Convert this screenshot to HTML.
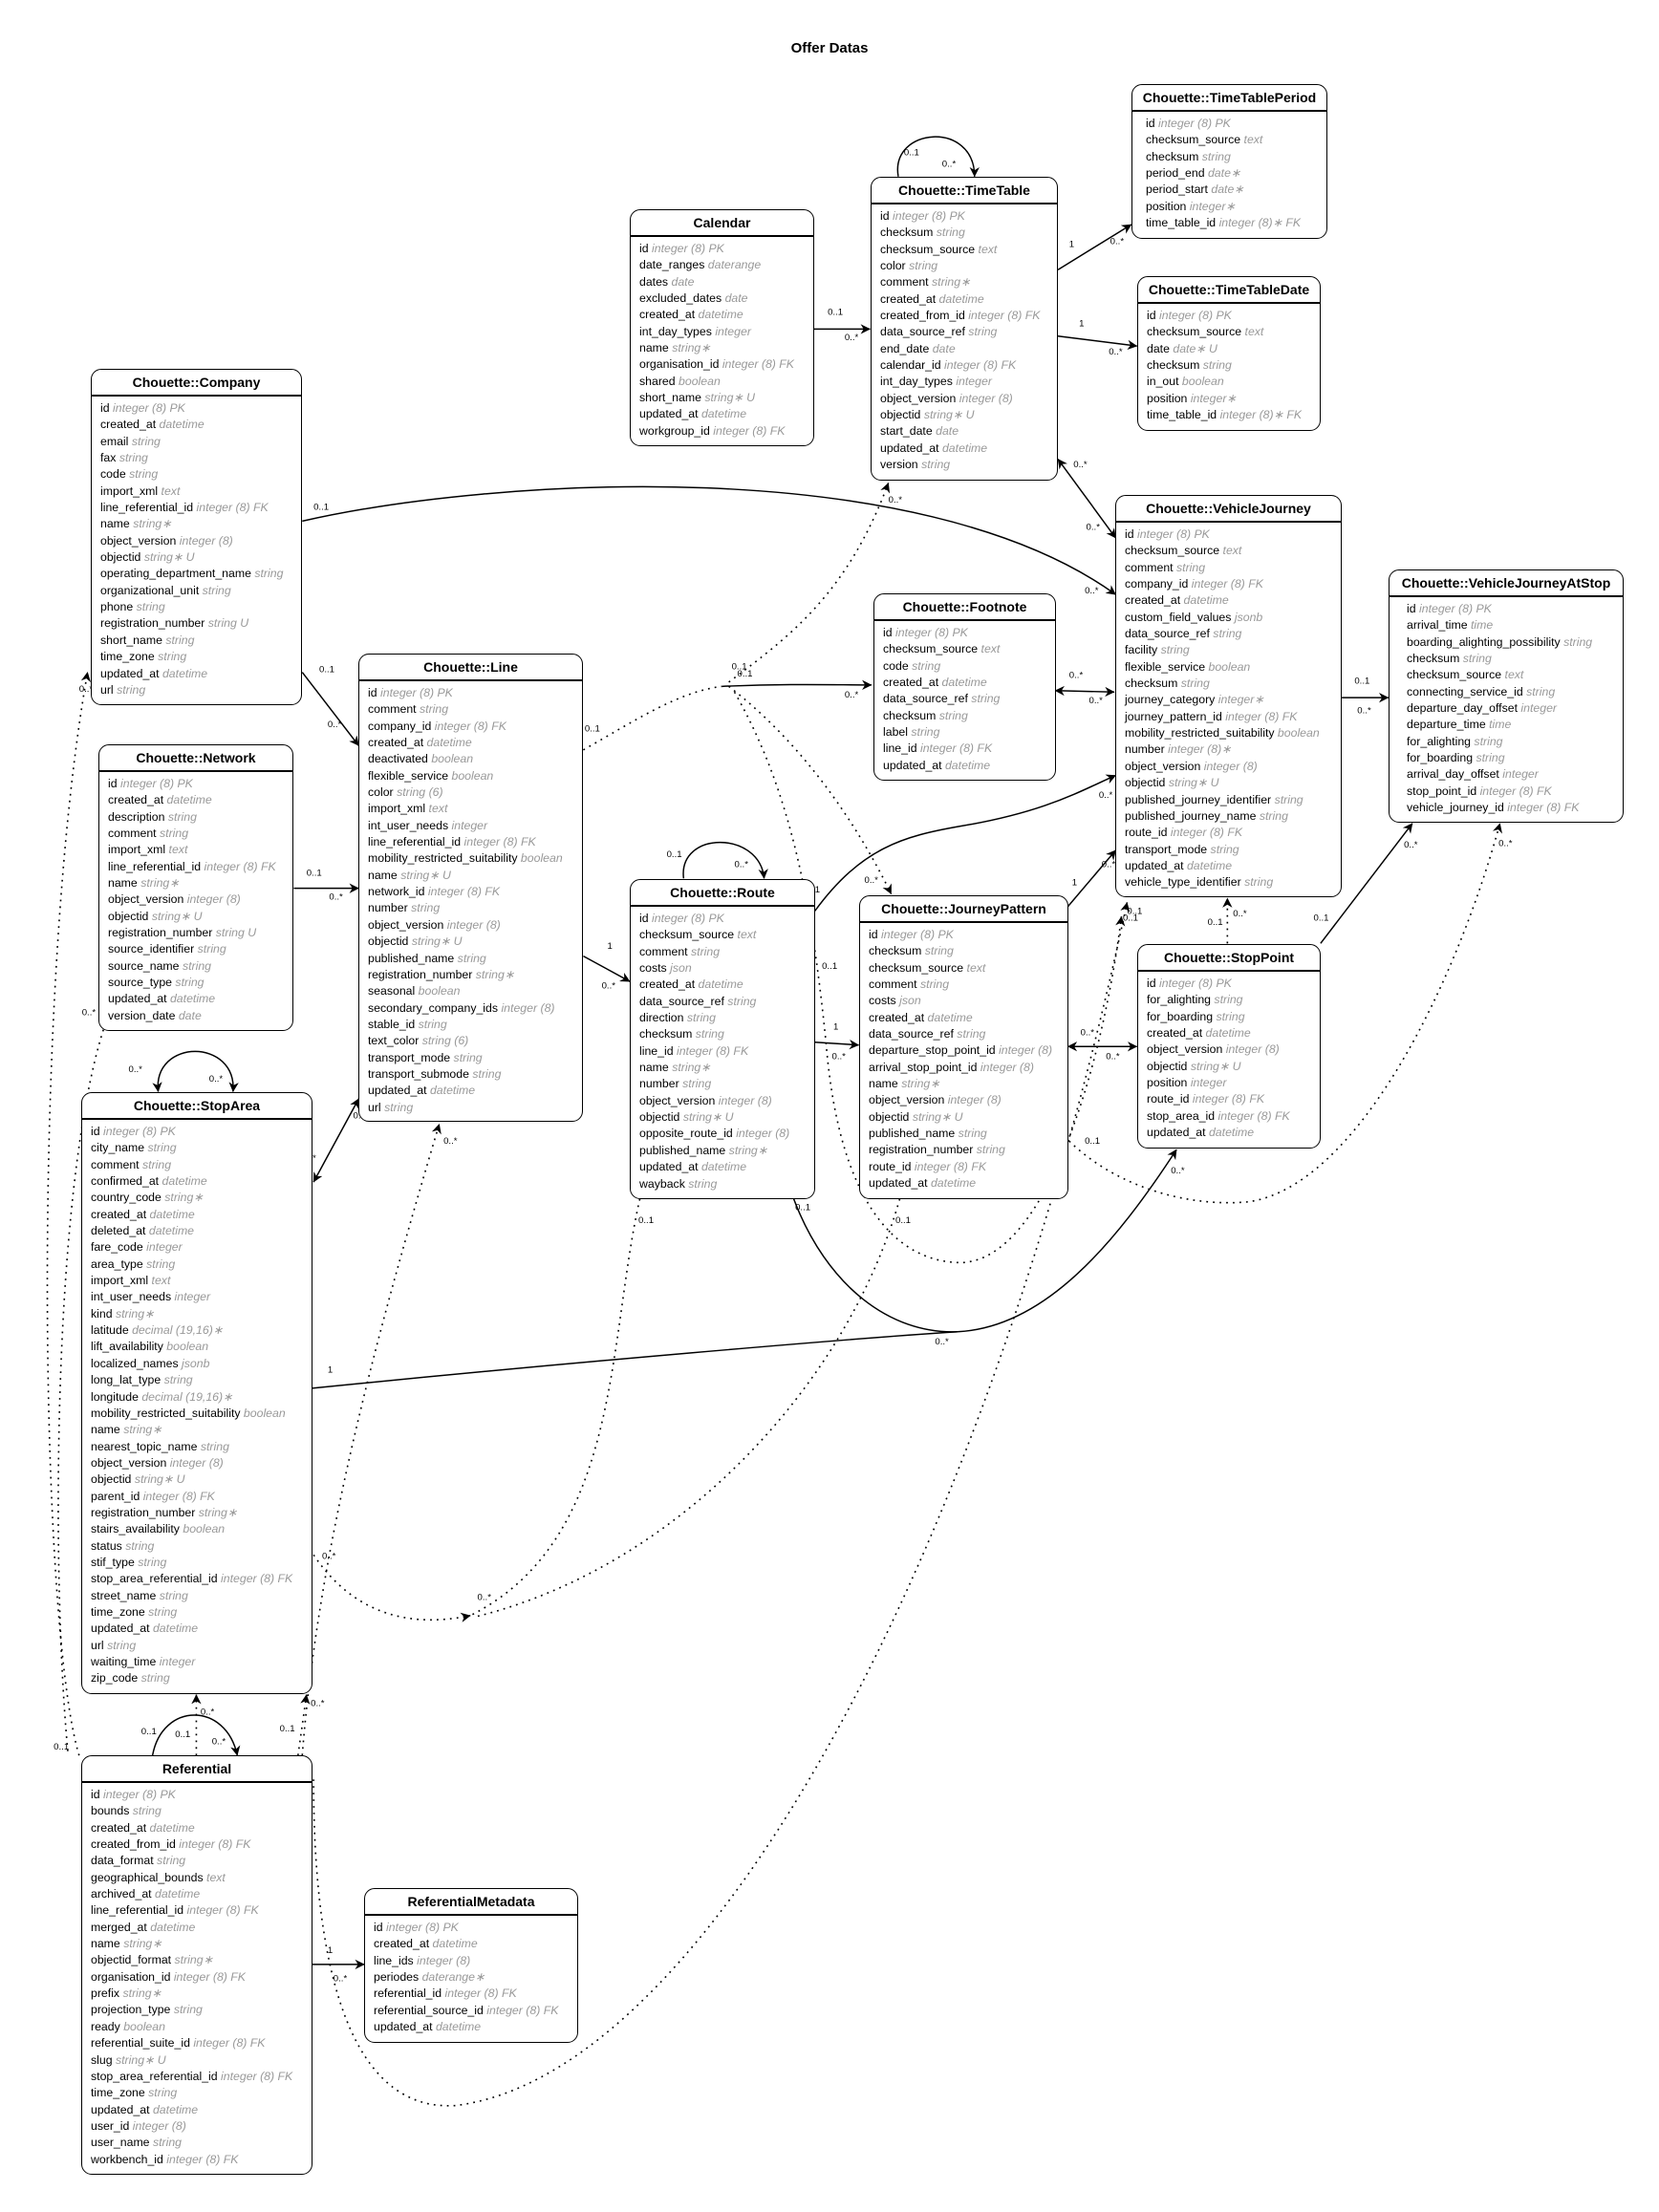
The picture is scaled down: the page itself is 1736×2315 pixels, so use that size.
<!DOCTYPE html>
<html><head><meta charset="utf-8">
<style>
html,body{margin:0;padding:0;background:#fff;}
body{width:1736px;height:2315px;position:relative;overflow:hidden;font-family:"Liberation Sans",Arial,sans-serif;}
svg.e{position:absolute;left:0;top:0;}
.box{position:absolute;border:1.5px solid #000;border-radius:11px;background:#fff;box-sizing:border-box;}
.h{height:26px;border-bottom:2px solid #000;text-align:center;font-weight:bold;font-size:14px;line-height:27px;white-space:nowrap;}
.b{text-align:left;padding-top:4px;padding-left:9px;}
.in{display:inline-block;text-align:left;}
.r{font-size:12.3px;line-height:17.35px;white-space:nowrap;color:#000;}
.r i{color:#999;}
.title{position:absolute;left:0;width:1736px;top:42px;text-align:center;font-weight:bold;font-size:15px;}
</style></head><body>
<div class="title">Offer Datas</div>
<svg class="e" width="1736" height="2315" viewBox="0 0 1174.6 1566.3">
<defs>
<marker id="a" viewBox="0 0 10 10" refX="9.5" refY="5" markerWidth="7" markerHeight="7" orient="auto-start-reverse" markerUnits="userSpaceOnUse">
<path d="M0,0 L10,5 L0,10 L3,5 z" fill="#000"/></marker>
</defs>
<g fill="none" stroke="#000" stroke-width="1">
<path d="M636,125 C630,90 690,85 690,125" marker-end="url(#a)"/>
<path d="M484,622 C480,588 538,588 541,622" marker-end="url(#a)"/>
<path d="M112,773 C108,735 168,735 165,773" marker-start="url(#a)" marker-end="url(#a)"/>
<path d="M108,1243 C115,1205 160,1205 168,1243" marker-end="url(#a)"/>
<path d="M749,191 L801,159" marker-end="url(#a)"/>
<path d="M749,238 L805,245" marker-end="url(#a)"/>
<path d="M576,233 L616,233" marker-end="url(#a)"/>
<path d="M749,325 L790,381" marker-start="url(#a)" marker-end="url(#a)"/>
<path d="M214,369 C350,338 650,320 790,421" marker-end="url(#a)"/>
<path d="M214,476 L254,528" marker-end="url(#a)"/>
<path d="M208,629 L254,629" marker-end="url(#a)"/>
<path d="M254,778 L222,837" marker-start="url(#a)" marker-end="url(#a)"/>
<path d="M413,677 L446,695" marker-end="url(#a)"/>
<path d="M511,486 C560,484 590,485 617,485" marker-end="url(#a)"/>
<path d="M577,645 C610,600 640,592 680,585 C740,575 765,560 790,549" marker-end="url(#a)"/>
<path d="M577,738 L608,740" marker-end="url(#a)"/>
<path d="M756,642 L790,602" marker-end="url(#a)"/>
<path d="M756,741 L805,741" marker-start="url(#a)" marker-end="url(#a)"/>
<path d="M935,668 L1000,583" marker-end="url(#a)"/>
<path d="M950,494 L983,494" marker-end="url(#a)"/>
<path d="M747,489 L789,490" marker-start="url(#a)" marker-end="url(#a)"/>
<path d="M562,849 C585,910 630,945 678,943"/>
<path d="M221,983 C400,965 600,948 678,943"/>
<path d="M678,943 C740,940 790,880 833,814" marker-end="url(#a)"/>
<path d="M221,1391 L258,1391" marker-end="url(#a)"/>
</g>
<g fill="none" stroke="#000" stroke-width="1.1" stroke-dasharray="1.2 3.5">
<path d="M413,531 C450,510 480,490 511,486"/>
<path d="M516,483 C560,450 600,420 629,342" marker-end="url(#a)"/>
<path d="M516,486 C560,520 600,570 631,633" marker-end="url(#a)"/>
<path d="M520,490 C560,560 575,640 585,740 C595,860 640,895 682,894 C740,890 780,760 794,649" marker-end="url(#a)"/>
<path d="M869,668 L869,636" marker-end="url(#a)"/>
<path d="M757,808 C790,840 840,855 884,851 C960,840 1030,700 1062,583" marker-end="url(#a)"/>
<path d="M222,1101 C245,1135 280,1155 333,1144" marker-end="url(#a)"/>
<path d="M453,849 C430,950 440,1090 333,1144"/>
<path d="M637,849 C600,980 480,1110 336,1145"/>
<path d="M214,1243 C225,1100 265,950 311,796" marker-end="url(#a)"/>
<path d="M222,1260 C222,1400 250,1495 322,1491 C500,1470 700,1100 798,639" marker-end="url(#a)"/>
<path d="M56,1243 C28,1150 22,700 62,476" marker-end="url(#a)"/>
<path d="M48,1240 C35,1100 38,800 82,706" marker-end="url(#a)"/>
<path d="M139,1243 L139,1200" marker-end="url(#a)"/>
<path d="M211,1243 L217,1200" marker-end="url(#a)"/>
</g>
<g font-family="Liberation Sans, Arial, sans-serif" font-size="6.5" fill="#000">
<text x="640" y="110">0..1</text><text x="667" y="118">0..*</text>
<text x="472" y="607">0..1</text><text x="520" y="614">0..*</text>
<text x="91" y="759">0..*</text><text x="148" y="766">0..*</text>
<text x="100" y="1228">0..1</text><text x="124" y="1230">0..1</text><text x="150" y="1235">0..*</text><text x="142" y="1214">0..*</text>
<text x="757" y="175">1</text><text x="786" y="173">0..*</text>
<text x="764" y="231">1</text><text x="785" y="251">0..*</text>
<text x="586" y="223">0..1</text><text x="598" y="241">0..*</text>
<text x="760" y="331">0..*</text><text x="769" y="375">0..*</text>
<text x="222" y="361">0..1</text><text x="768" y="420">0..*</text>
<text x="226" y="476">0..1</text><text x="232" y="515">0..*</text>
<text x="217" y="620">0..1</text><text x="233" y="637">0..*</text>
<text x="214" y="822">0..*</text><text x="250" y="792">0..*</text>
<text x="430" y="672">1</text><text x="426" y="700">0..*</text>
<text x="414" y="518">0..1</text><text x="518" y="474">0..1</text><text x="522" y="479">0..1</text><text x="598" y="494">0..*</text>
<text x="629" y="356">0..*</text><text x="612" y="625">0..*</text>
<text x="778" y="565">0..*</text><text x="577" y="632">1</text>
<text x="590" y="729">1</text><text x="589" y="750">0..*</text>
<text x="759" y="627">1</text><text x="780" y="614">0..*</text>
<text x="765" y="733">0..*</text><text x="783" y="750">0..*</text>
<text x="855" y="655">0..1</text><text x="873" y="649">0..*</text>
<text x="930" y="652">0..1</text><text x="994" y="600">0..*</text>
<text x="959" y="484">0..1</text><text x="961" y="505">0..*</text>
<text x="757" y="480">0..*</text><text x="771" y="498">0..*</text>
<text x="768" y="810">0..1</text><text x="1061" y="599">0..*</text>
<text x="232" y="972">1</text><text x="662" y="952">0..*</text><text x="829" y="831">0..*</text><text x="563" y="857">0..1</text>
<text x="228" y="1104">0..*</text><text x="338" y="1133">0..*</text><text x="452" y="866">0..1</text><text x="634" y="866">0..1</text>
<text x="314" y="810">0..*</text><text x="795" y="652">0..1</text><text x="798" y="647">0..1</text><text x="582" y="686">0..1</text>
<text x="56" y="490">0..*</text><text x="58" y="719">0..*</text><text x="38" y="1239">0..1</text>
<text x="198" y="1226">0..1</text><text x="220" y="1208">0..*</text>
<text x="232" y="1383">1</text><text x="236" y="1403">0..*</text>
</g>
</svg>

<div class="box" style="left:1184px;top:88px;width:205px;height:162px"><div class="h">Chouette::TimeTablePeriod</div><div class="b" style="padding-left:14px"><div class="in">
<div class="r">id <i>integer (8) PK</i></div><div class="r">checksum_source <i>text</i></div><div class="r">checksum <i>string</i></div><div class="r">period_end <i>date∗</i></div><div class="r">period_start <i>date∗</i></div><div class="r">position <i>integer∗</i></div><div class="r">time_table_id <i>integer (8)∗ FK</i></div>
</div></div></div>

<div class="box" style="left:911px;top:185px;width:196px;height:318px"><div class="h">Chouette::TimeTable</div><div class="b"><div class="in">
<div class="r">id <i>integer (8) PK</i></div><div class="r">checksum <i>string</i></div><div class="r">checksum_source <i>text</i></div><div class="r">color <i>string</i></div><div class="r">comment <i>string∗</i></div><div class="r">created_at <i>datetime</i></div><div class="r">created_from_id <i>integer (8) FK</i></div><div class="r">data_source_ref <i>string</i></div><div class="r">end_date <i>date</i></div><div class="r">calendar_id <i>integer (8) FK</i></div><div class="r">int_day_types <i>integer</i></div><div class="r">object_version <i>integer (8)</i></div><div class="r">objectid <i>string∗ U</i></div><div class="r">start_date <i>date</i></div><div class="r">updated_at <i>datetime</i></div><div class="r">version <i>string</i></div>
</div></div></div>

<div class="box" style="left:659px;top:219px;width:193px;height:248px"><div class="h">Calendar</div><div class="b"><div class="in">
<div class="r">id <i>integer (8) PK</i></div><div class="r">date_ranges <i>daterange</i></div><div class="r">dates <i>date</i></div><div class="r">excluded_dates <i>date</i></div><div class="r">created_at <i>datetime</i></div><div class="r">int_day_types <i>integer</i></div><div class="r">name <i>string∗</i></div><div class="r">organisation_id <i>integer (8) FK</i></div><div class="r">shared <i>boolean</i></div><div class="r">short_name <i>string∗ U</i></div><div class="r">updated_at <i>datetime</i></div><div class="r">workgroup_id <i>integer (8) FK</i></div>
</div></div></div>

<div class="box" style="left:1190px;top:289px;width:192px;height:162px"><div class="h">Chouette::TimeTableDate</div><div class="b"><div class="in">
<div class="r">id <i>integer (8) PK</i></div><div class="r">checksum_source <i>text</i></div><div class="r">date <i>date∗ U</i></div><div class="r">checksum <i>string</i></div><div class="r">in_out <i>boolean</i></div><div class="r">position <i>integer∗</i></div><div class="r">time_table_id <i>integer (8)∗ FK</i></div>
</div></div></div>

<div class="box" style="left:95px;top:386px;width:221px;height:352px"><div class="h">Chouette::Company</div><div class="b"><div class="in">
<div class="r">id <i>integer (8) PK</i></div><div class="r">created_at <i>datetime</i></div><div class="r">email <i>string</i></div><div class="r">fax <i>string</i></div><div class="r">code <i>string</i></div><div class="r">import_xml <i>text</i></div><div class="r">line_referential_id <i>integer (8) FK</i></div><div class="r">name <i>string∗</i></div><div class="r">object_version <i>integer (8)</i></div><div class="r">objectid <i>string∗ U</i></div><div class="r">operating_department_name <i>string</i></div><div class="r">organizational_unit <i>string</i></div><div class="r">phone <i>string</i></div><div class="r">registration_number <i>string U</i></div><div class="r">short_name <i>string</i></div><div class="r">time_zone <i>string</i></div><div class="r">updated_at <i>datetime</i></div><div class="r">url <i>string</i></div>
</div></div></div>

<div class="box" style="left:1167px;top:518px;width:237px;height:421px"><div class="h">Chouette::VehicleJourney</div><div class="b"><div class="in">
<div class="r">id <i>integer (8) PK</i></div><div class="r">checksum_source <i>text</i></div><div class="r">comment <i>string</i></div><div class="r">company_id <i>integer (8) FK</i></div><div class="r">created_at <i>datetime</i></div><div class="r">custom_field_values <i>jsonb</i></div><div class="r">data_source_ref <i>string</i></div><div class="r">facility <i>string</i></div><div class="r">flexible_service <i>boolean</i></div><div class="r">checksum <i>string</i></div><div class="r">journey_category <i>integer∗</i></div><div class="r">journey_pattern_id <i>integer (8) FK</i></div><div class="r">mobility_restricted_suitability <i>boolean</i></div><div class="r">number <i>integer (8)∗</i></div><div class="r">object_version <i>integer (8)</i></div><div class="r">objectid <i>string∗ U</i></div><div class="r">published_journey_identifier <i>string</i></div><div class="r">published_journey_name <i>string</i></div><div class="r">route_id <i>integer (8) FK</i></div><div class="r">transport_mode <i>string</i></div><div class="r">updated_at <i>datetime</i></div><div class="r">vehicle_type_identifier <i>string</i></div>
</div></div></div>

<div class="box" style="left:1453px;top:596px;width:246px;height:265px"><div class="h">Chouette::VehicleJourneyAtStop</div><div class="b" style="padding-left:18px"><div class="in">
<div class="r">id <i>integer (8) PK</i></div><div class="r">arrival_time <i>time</i></div><div class="r">boarding_alighting_possibility <i>string</i></div><div class="r">checksum <i>string</i></div><div class="r">checksum_source <i>text</i></div><div class="r">connecting_service_id <i>string</i></div><div class="r">departure_day_offset <i>integer</i></div><div class="r">departure_time <i>time</i></div><div class="r">for_alighting <i>string</i></div><div class="r">for_boarding <i>string</i></div><div class="r">arrival_day_offset <i>integer</i></div><div class="r">stop_point_id <i>integer (8) FK</i></div><div class="r">vehicle_journey_id <i>integer (8) FK</i></div>
</div></div></div>

<div class="box" style="left:914px;top:621px;width:191px;height:196px"><div class="h">Chouette::Footnote</div><div class="b"><div class="in">
<div class="r">id <i>integer (8) PK</i></div><div class="r">checksum_source <i>text</i></div><div class="r">code <i>string</i></div><div class="r">created_at <i>datetime</i></div><div class="r">data_source_ref <i>string</i></div><div class="r">checksum <i>string</i></div><div class="r">label <i>string</i></div><div class="r">line_id <i>integer (8) FK</i></div><div class="r">updated_at <i>datetime</i></div>
</div></div></div>

<div class="box" style="left:375px;top:684px;width:235px;height:490px"><div class="h">Chouette::Line</div><div class="b"><div class="in">
<div class="r">id <i>integer (8) PK</i></div><div class="r">comment <i>string</i></div><div class="r">company_id <i>integer (8) FK</i></div><div class="r">created_at <i>datetime</i></div><div class="r">deactivated <i>boolean</i></div><div class="r">flexible_service <i>boolean</i></div><div class="r">color <i>string (6)</i></div><div class="r">import_xml <i>text</i></div><div class="r">int_user_needs <i>integer</i></div><div class="r">line_referential_id <i>integer (8) FK</i></div><div class="r">mobility_restricted_suitability <i>boolean</i></div><div class="r">name <i>string∗ U</i></div><div class="r">network_id <i>integer (8) FK</i></div><div class="r">number <i>string</i></div><div class="r">object_version <i>integer (8)</i></div><div class="r">objectid <i>string∗ U</i></div><div class="r">published_name <i>string</i></div><div class="r">registration_number <i>string∗</i></div><div class="r">seasonal <i>boolean</i></div><div class="r">secondary_company_ids <i>integer (8)</i></div><div class="r">stable_id <i>string</i></div><div class="r">text_color <i>string (6)</i></div><div class="r">transport_mode <i>string</i></div><div class="r">transport_submode <i>string</i></div><div class="r">updated_at <i>datetime</i></div><div class="r">url <i>string</i></div>
</div></div></div>

<div class="box" style="left:103px;top:779px;width:204px;height:300px"><div class="h">Chouette::Network</div><div class="b"><div class="in">
<div class="r">id <i>integer (8) PK</i></div><div class="r">created_at <i>datetime</i></div><div class="r">description <i>string</i></div><div class="r">comment <i>string</i></div><div class="r">import_xml <i>text</i></div><div class="r">line_referential_id <i>integer (8) FK</i></div><div class="r">name <i>string∗</i></div><div class="r">object_version <i>integer (8)</i></div><div class="r">objectid <i>string∗ U</i></div><div class="r">registration_number <i>string U</i></div><div class="r">source_identifier <i>string</i></div><div class="r">source_name <i>string</i></div><div class="r">source_type <i>string</i></div><div class="r">updated_at <i>datetime</i></div><div class="r">version_date <i>date</i></div>
</div></div></div>

<div class="box" style="left:659px;top:920px;width:194px;height:335px"><div class="h">Chouette::Route</div><div class="b"><div class="in">
<div class="r">id <i>integer (8) PK</i></div><div class="r">checksum_source <i>text</i></div><div class="r">comment <i>string</i></div><div class="r">costs <i>json</i></div><div class="r">created_at <i>datetime</i></div><div class="r">data_source_ref <i>string</i></div><div class="r">direction <i>string</i></div><div class="r">checksum <i>string</i></div><div class="r">line_id <i>integer (8) FK</i></div><div class="r">name <i>string∗</i></div><div class="r">number <i>string</i></div><div class="r">object_version <i>integer (8)</i></div><div class="r">objectid <i>string∗ U</i></div><div class="r">opposite_route_id <i>integer (8)</i></div><div class="r">published_name <i>string∗</i></div><div class="r">updated_at <i>datetime</i></div><div class="r">wayback <i>string</i></div>
</div></div></div>

<div class="box" style="left:899px;top:937px;width:219px;height:318px"><div class="h">Chouette::JourneyPattern</div><div class="b"><div class="in">
<div class="r">id <i>integer (8) PK</i></div><div class="r">checksum <i>string</i></div><div class="r">checksum_source <i>text</i></div><div class="r">comment <i>string</i></div><div class="r">costs <i>json</i></div><div class="r">created_at <i>datetime</i></div><div class="r">data_source_ref <i>string</i></div><div class="r">departure_stop_point_id <i>integer (8)</i></div><div class="r">arrival_stop_point_id <i>integer (8)</i></div><div class="r">name <i>string∗</i></div><div class="r">object_version <i>integer (8)</i></div><div class="r">objectid <i>string∗ U</i></div><div class="r">published_name <i>string</i></div><div class="r">registration_number <i>string</i></div><div class="r">route_id <i>integer (8) FK</i></div><div class="r">updated_at <i>datetime</i></div>
</div></div></div>

<div class="box" style="left:1190px;top:988px;width:192px;height:214px"><div class="h">Chouette::StopPoint</div><div class="b"><div class="in">
<div class="r">id <i>integer (8) PK</i></div><div class="r">for_alighting <i>string</i></div><div class="r">for_boarding <i>string</i></div><div class="r">created_at <i>datetime</i></div><div class="r">object_version <i>integer (8)</i></div><div class="r">objectid <i>string∗ U</i></div><div class="r">position <i>integer</i></div><div class="r">route_id <i>integer (8) FK</i></div><div class="r">stop_area_id <i>integer (8) FK</i></div><div class="r">updated_at <i>datetime</i></div>
</div></div></div>

<div class="box" style="left:85px;top:1143px;width:242px;height:630px"><div class="h">Chouette::StopArea</div><div class="b"><div class="in">
<div class="r">id <i>integer (8) PK</i></div><div class="r">city_name <i>string</i></div><div class="r">comment <i>string</i></div><div class="r">confirmed_at <i>datetime</i></div><div class="r">country_code <i>string∗</i></div><div class="r">created_at <i>datetime</i></div><div class="r">deleted_at <i>datetime</i></div><div class="r">fare_code <i>integer</i></div><div class="r">area_type <i>string</i></div><div class="r">import_xml <i>text</i></div><div class="r">int_user_needs <i>integer</i></div><div class="r">kind <i>string∗</i></div><div class="r">latitude <i>decimal (19,16)∗</i></div><div class="r">lift_availability <i>boolean</i></div><div class="r">localized_names <i>jsonb</i></div><div class="r">long_lat_type <i>string</i></div><div class="r">longitude <i>decimal (19,16)∗</i></div><div class="r">mobility_restricted_suitability <i>boolean</i></div><div class="r">name <i>string∗</i></div><div class="r">nearest_topic_name <i>string</i></div><div class="r">object_version <i>integer (8)</i></div><div class="r">objectid <i>string∗ U</i></div><div class="r">parent_id <i>integer (8) FK</i></div><div class="r">registration_number <i>string∗</i></div><div class="r">stairs_availability <i>boolean</i></div><div class="r">status <i>string</i></div><div class="r">stif_type <i>string</i></div><div class="r">stop_area_referential_id <i>integer (8) FK</i></div><div class="r">street_name <i>string</i></div><div class="r">time_zone <i>string</i></div><div class="r">updated_at <i>datetime</i></div><div class="r">url <i>string</i></div><div class="r">waiting_time <i>integer</i></div><div class="r">zip_code <i>string</i></div>
</div></div></div>

<div class="box" style="left:85px;top:1837px;width:242px;height:439px"><div class="h">Referential</div><div class="b"><div class="in">
<div class="r">id <i>integer (8) PK</i></div><div class="r">bounds <i>string</i></div><div class="r">created_at <i>datetime</i></div><div class="r">created_from_id <i>integer (8) FK</i></div><div class="r">data_format <i>string</i></div><div class="r">geographical_bounds <i>text</i></div><div class="r">archived_at <i>datetime</i></div><div class="r">line_referential_id <i>integer (8) FK</i></div><div class="r">merged_at <i>datetime</i></div><div class="r">name <i>string∗</i></div><div class="r">objectid_format <i>string∗</i></div><div class="r">organisation_id <i>integer (8) FK</i></div><div class="r">prefix <i>string∗</i></div><div class="r">projection_type <i>string</i></div><div class="r">ready <i>boolean</i></div><div class="r">referential_suite_id <i>integer (8) FK</i></div><div class="r">slug <i>string∗ U</i></div><div class="r">stop_area_referential_id <i>integer (8) FK</i></div><div class="r">time_zone <i>string</i></div><div class="r">updated_at <i>datetime</i></div><div class="r">user_id <i>integer (8)</i></div><div class="r">user_name <i>string</i></div><div class="r">workbench_id <i>integer (8) FK</i></div>
</div></div></div>

<div class="box" style="left:381px;top:1976px;width:224px;height:162px"><div class="h">ReferentialMetadata</div><div class="b"><div class="in">
<div class="r">id <i>integer (8) PK</i></div><div class="r">created_at <i>datetime</i></div><div class="r">line_ids <i>integer (8)</i></div><div class="r">periodes <i>daterange∗</i></div><div class="r">referential_id <i>integer (8) FK</i></div><div class="r">referential_source_id <i>integer (8) FK</i></div><div class="r">updated_at <i>datetime</i></div>
</div></div></div>
</body></html>
